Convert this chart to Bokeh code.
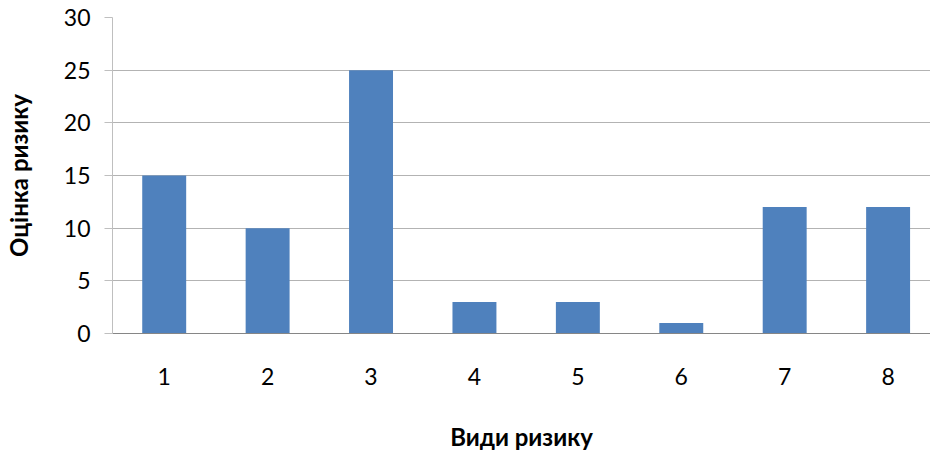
from bokeh.plotting import figure
from bokeh.models import Range1d, FixedTicker
from bokeh.embed import file_html
from bokeh.resources import INLINE

categories = [1, 2, 3, 4, 5, 6, 7, 8]
tick_labels = ["1", "2", "3", "4", "5", "6", "7", "8"]
values = [15, 10, 25, 3, 3, 1, 12, 12]
y_ticks = [0, 5, 10, 15, 20, 25, 30]

FONT = "Lato"

p = figure(width=930, height=454, output_backend="svg", toolbar_location=None,
           x_range=Range1d(0.5, 8.41), y_range=Range1d(0, 30),
           min_border_left=112, min_border_right=0, min_border_top=17, min_border_bottom=121)
p.outline_line_color = None
p.background_fill_color = "white"
p.border_fill_color = "white"

p.vbar(x=categories, top=values, width=0.425, bottom=0, color="#4f81bd", line_color=None)

p.xgrid.visible = False
p.ygrid.ticker = FixedTicker(ticks=y_ticks)
p.ygrid.grid_line_color = "#b3b3b3"
p.ygrid.grid_line_width = 1

xa = p.xaxis[0]
xa.ticker = FixedTicker(ticks=categories)
xa.major_label_overrides = {c: t for c, t in zip(categories, tick_labels)}
xa.major_tick_line_color = None
xa.minor_tick_line_color = None
xa.axis_line_color = "#868686"
xa.axis_line_width = 1
xa.major_label_text_font = FONT
xa.major_label_text_font_size = "23px"
xa.major_label_text_color = "#000000"
xa.major_label_standoff = 28
xa.axis_label = "Види ризику"
xa.axis_label_text_font = FONT
xa.axis_label_text_font_style = "bold"
xa.axis_label_text_font_size = "24px"
xa.axis_label_text_color = "#000000"
xa.axis_label_standoff = 34

ya = p.yaxis[0]
ya.ticker = FixedTicker(ticks=y_ticks)
ya.axis_line_color = "#bfbfbf"
ya.major_tick_line_color = "#bfbfbf"
ya.major_tick_out = 8
ya.major_tick_in = 0
ya.minor_tick_line_color = None
ya.major_label_text_font = FONT
ya.major_label_text_font_size = "23px"
ya.major_label_text_color = "#000000"
ya.major_label_standoff = 14
ya.axis_label = "Оцінка ризику"
ya.axis_label_text_font = FONT
ya.axis_label_text_font_style = "bold"
ya.axis_label_text_font_size = "24px"
ya.axis_label_text_color = "#000000"
ya.axis_label_standoff = 28

open("out.html", "w").write(file_html(p, INLINE))
